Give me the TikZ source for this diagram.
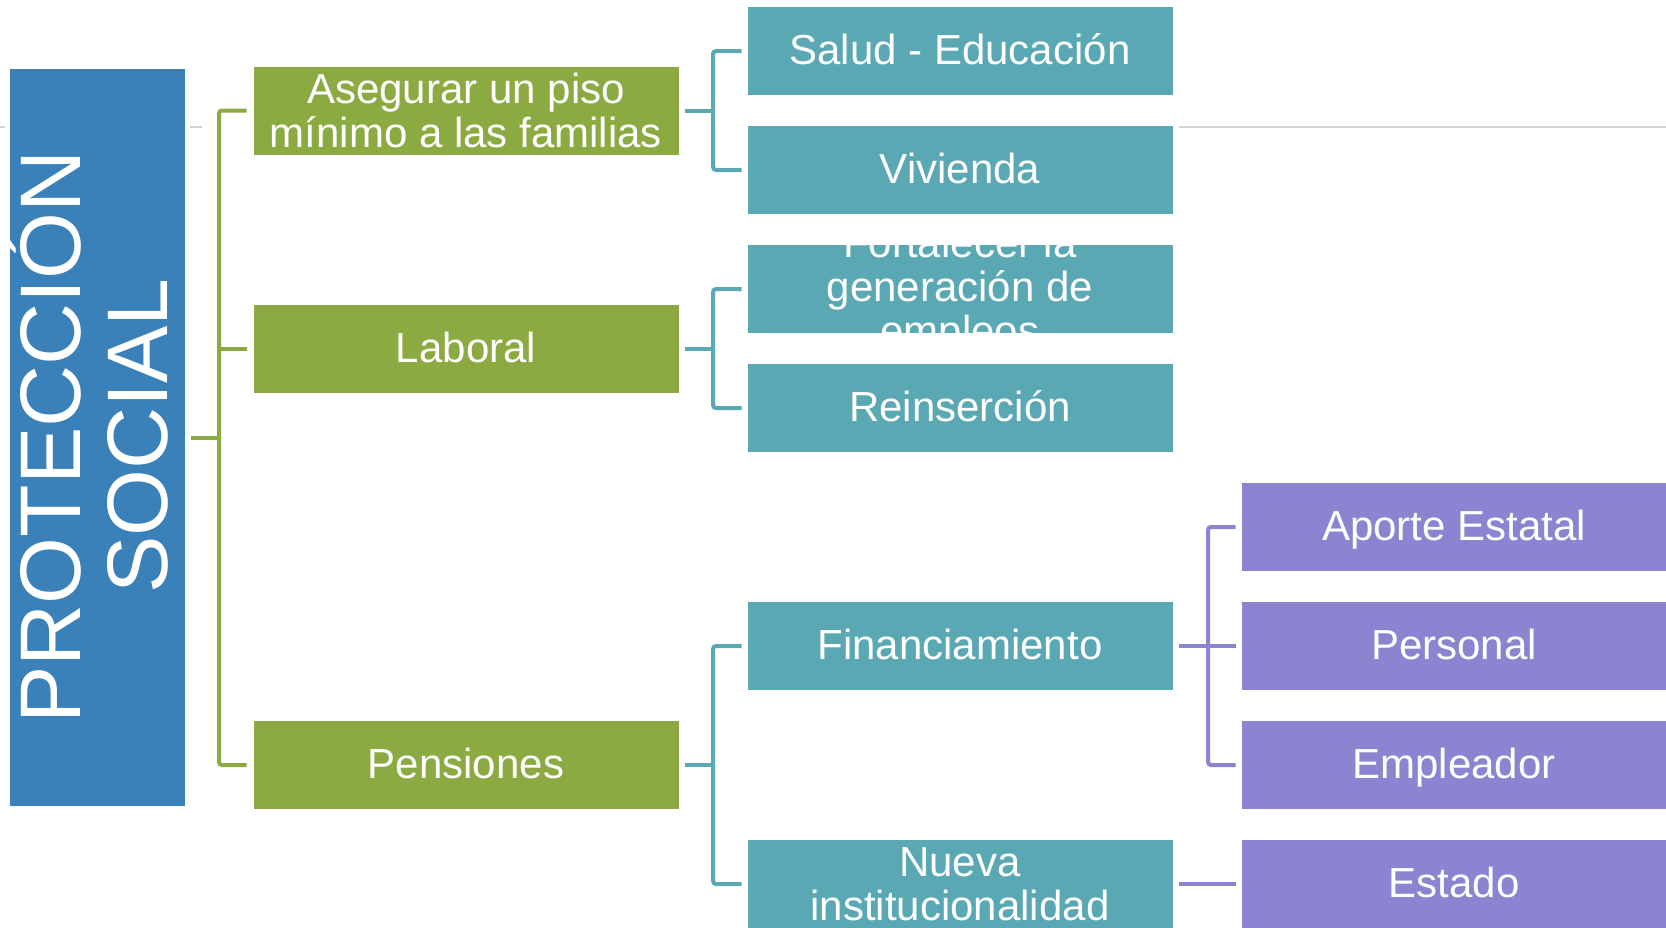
\documentclass[tikz,border=0pt]{standalone}
\usepackage{fontspec}
\setmainfont{Liberation Sans}
\definecolor{cblue}{HTML}{3A80B9}
\definecolor{cgreen}{HTML}{8CAA42}
\definecolor{cteal}{HTML}{5AA8B4}
\definecolor{cpurple}{HTML}{8A84D1}
\definecolor{cgray}{HTML}{D2D2D2}
\begin{document}
\begin{tikzpicture}[x=1pt,y=-1pt,
  box/.style={rectangle, minimum width=426pt, minimum height=89pt, inner sep=0pt,
    text=white, font=\fontsize{42}{44}\selectfont, align=center, draw=white, line width=0.8pt},
  oneline/.style={text height=32pt, text depth=5pt},
  gbox/.style={box, fill=cgreen},
  tbox/.style={box, fill=cteal},
  pbox/.style={box, fill=cpurple},
  conn/.style={line width=4pt, rounded corners=3pt},
  grayline/.style={draw=cgray, line width=2pt},
  titletext/.style={rotate=90, anchor=base, text=white, inner sep=0pt,
    font=\fontsize{86}{90}\selectfont}]
\useasboundingbox (0,0) rectangle (1666,927);
\clip (0,0) rectangle (1666,927);

% faint background line segments
\draw[grayline] (0,127) -- (5,127);
\draw[grayline] (190,127) -- (202,127);
\draw[grayline] (1179,127) -- (1666,127);

% root box
\node[rectangle, fill=cblue, minimum width=175pt, minimum height=737pt, inner sep=0pt] (root) at (97.5,437.5) {};
\node[titletext] (title1) at (80,437) {PROTECCIÓN};
\node[titletext] (title2) at (167,436) {SOCIAL};

% level 1
\node[gbox] (g1) at (466,110.5) {Asegurar un piso\\mínimo a las familias};
\node[gbox, oneline] (g2) at (466,348.5) {Laboral};
\node[gbox, oneline] (g3) at (466,765) {Pensiones};

% level 2
\node[tbox, oneline] (t1) at (960,51) {Salud - Educación};
\node[tbox, oneline] (t2) at (960,170) {Vivienda};
\node[tbox] (t3) at (960,289) {};
\begin{scope}
  \clip (t3.north west) rectangle (t3.south east);
  \node[text=white, align=center, inner sep=0pt, font=\fontsize{42}{44}\selectfont] (t3text) at (960,291) {Fortalecer la\\generación de\\empleos};
\end{scope}
\node[tbox, oneline] (t4) at (960,408) {Reinserción};
\node[tbox, oneline] (t5) at (960,646) {Financiamiento};
\node[tbox] (t6) at (960,884) {Nueva\\institucionalidad};

% level 3
\node[pbox, oneline] (p1) at (1454,527) {Aporte Estatal};
\node[pbox, oneline] (p2) at (1454,646) {Personal};
\node[pbox, oneline] (p3) at (1454,765) {Empleador};
\node[pbox, oneline] (p4) at (1454,884) {Estado};

% bracket x positions
\coordinate (gx) at (219,0);
\coordinate (tx) at (713,0);
\coordinate (px) at (1208,0);

% green bracket
\draw[conn, cgreen] ([xshift=-6pt]g1.west) -- (gx |- g1.west) -- (gx |- g3.west) -- ([xshift=-6pt]g3.west);
\draw[conn, cgreen] ([xshift=-6pt]g2.west) -- (gx |- g2.west);
\draw[conn, cgreen] ([xshift=6pt]root.east) -- (gx |- root.east);

% teal brackets
\draw[conn, cteal] ([xshift=-5pt]t1.west) -- (tx |- t1.west) -- (tx |- t2.west) -- ([xshift=-5pt]t2.west);
\draw[conn, cteal] ([xshift=6pt]g1.east) -- (tx |- g1.east);
\draw[conn, cteal] ([xshift=-5pt]t3.west) -- (tx |- t3.west) -- (tx |- t4.west) -- ([xshift=-5pt]t4.west);
\draw[conn, cteal] ([xshift=6pt]g2.east) -- (tx |- g2.east);
\draw[conn, cteal] ([xshift=-5pt]t5.west) -- (tx |- t5.west) -- (tx |- t6.west) -- ([xshift=-5pt]t6.west);
\draw[conn, cteal] ([xshift=6pt]g3.east) -- (tx |- g3.east);

% purple brackets
\draw[conn, cpurple] ([xshift=-5pt]p1.west) -- (px |- p1.west) -- (px |- p3.west) -- ([xshift=-5pt]p3.west);
\draw[conn, cpurple] ([xshift=6pt]t5.east) -- ([xshift=-5pt]p2.west);
\draw[conn, cpurple] ([xshift=6pt]t6.east) -- ([xshift=-5pt]p4.west);
\end{tikzpicture}
\end{document}
